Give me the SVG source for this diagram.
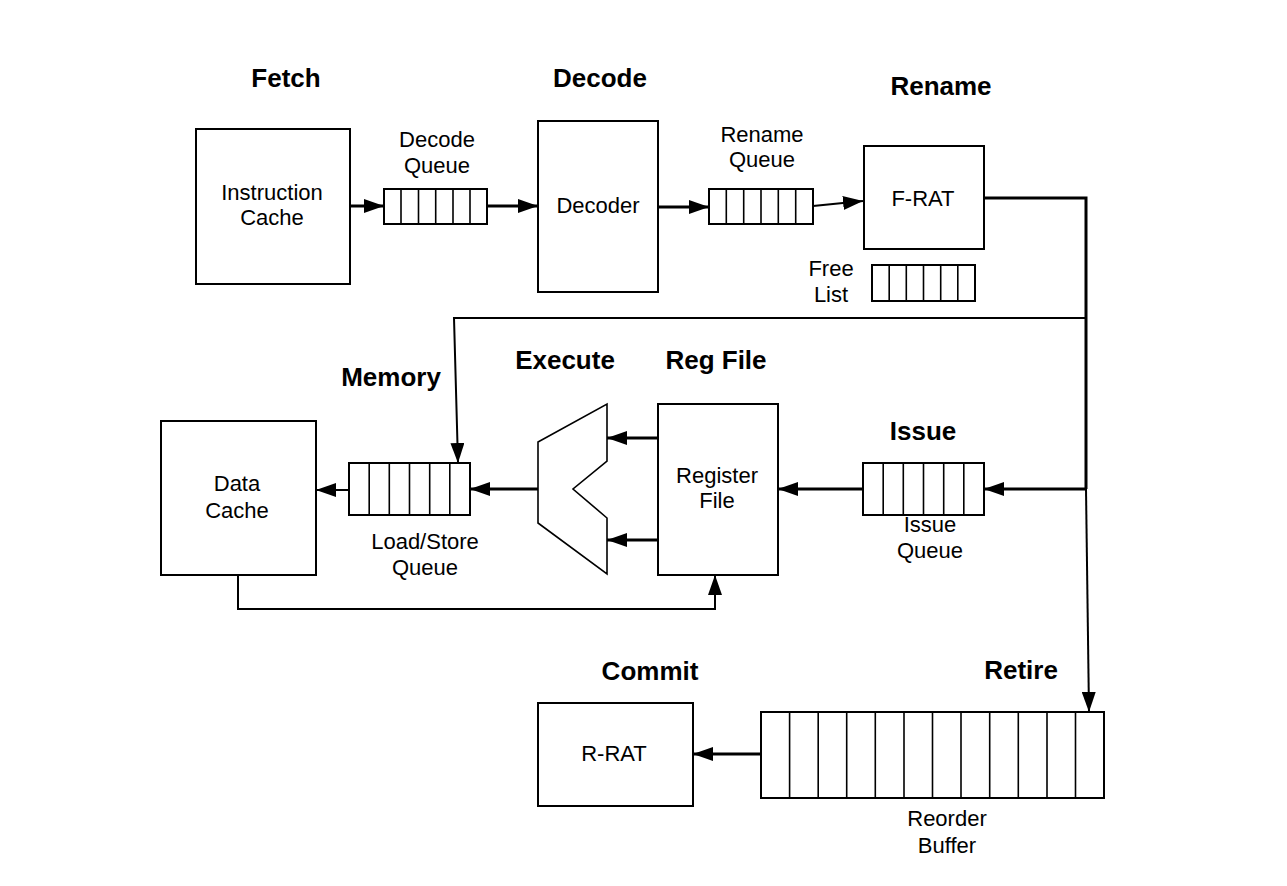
<svg xmlns="http://www.w3.org/2000/svg" width="1287" height="886" viewBox="0 0 1287 886">
<defs>
<marker id="ah" markerUnits="userSpaceOnUse" markerWidth="20" markerHeight="14" refX="20" refY="7" orient="auto">
<path d="M0,0 L20,7 L0,14 z" fill="#000"/>
</marker>
<style>
.box{fill:#fff;stroke:#000;stroke-width:2}
.cell{stroke:#000;stroke-width:1.6;fill:none}
.t{font-family:"Liberation Sans",Arial,Helvetica,sans-serif;font-size:22px;text-anchor:middle;fill:#000}
.h{font-family:"Liberation Sans",Arial,Helvetica,sans-serif;font-size:26px;font-weight:bold;text-anchor:middle;fill:#000}
.c{fill:none;stroke:#000;stroke-width:3}
.c2{fill:none;stroke:#000;stroke-width:2}
.ar{marker-end:url(#ah)}
</style>
</defs>
<rect width="1287" height="886" fill="#fff"/>

<g id="stage-labels">
<text class="h" x="286" y="87">Fetch</text>
<text class="h" x="600" y="87">Decode</text>
<text class="h" x="941" y="95">Rename</text>
<text class="h" x="391" y="386">Memory</text>
<text class="h" x="565" y="369">Execute</text>
<text class="h" x="716" y="369">Reg File</text>
<text class="h" x="923" y="440">Issue</text>
<text class="h" x="650" y="680">Commit</text>
<text class="h" x="1021" y="679">Retire</text>
</g>

<g id="connectors">
<line class="c ar" x1="350" y1="206" x2="384" y2="206"/>
<line class="c ar" x1="487" y1="206" x2="538" y2="206"/>
<line class="c ar" x1="658" y1="207" x2="709" y2="207"/>
<line class="c2 ar" x1="813" y1="206" x2="863" y2="201"/>
<polyline class="c" points="984,198 1086,198 1086,489"/>
<line class="c2 ar" x1="1086" y1="489" x2="1089" y2="712"/>
<polyline class="c2 ar" points="1086,318 454,318 458,463"/>
<line class="c ar" x1="1086" y1="489" x2="984" y2="489"/>
<line class="c ar" x1="863" y1="489" x2="778" y2="489"/>
<line class="c ar" x1="658" y1="438" x2="607" y2="438"/>
<line class="c ar" x1="658" y1="540" x2="607" y2="540"/>
<line class="c ar" x1="538" y1="489" x2="470" y2="489"/>
<line class="c2 ar" x1="349" y1="490" x2="316" y2="490"/>
<polyline class="c2 ar" points="238,575 238,609 715,609 715,575"/>
<line class="c ar" x1="761" y1="754" x2="693" y2="754"/>
</g>

<g id="icache">
<rect class="box" x="196" y="129" width="154" height="155"/>
<text class="t" x="272" y="200">Instruction</text>
<text class="t" x="272" y="225">Cache</text>
</g>

<g id="decode-queue">
<rect class="box" x="384" y="189" width="103" height="35"/>
<path class="cell" d="M401,189V224M418.5,189V224M435.7,189V224M453,189V224M470,189V224"/>
<text class="t" x="437" y="147">Decode</text>
<text class="t" x="437" y="173">Queue</text>
</g>

<g id="decoder">
<rect class="box" x="538" y="121" width="120" height="171"/>
<text class="t" x="598" y="213">Decoder</text>
</g>

<g id="rename-queue">
<rect class="box" x="709" y="189" width="104" height="35"/>
<path class="cell" d="M726.3,189V224M743.7,189V224M761,189V224M778.3,189V224M795.7,189V224"/>
<text class="t" x="762" y="142">Rename</text>
<text class="t" x="762" y="167">Queue</text>
</g>

<g id="frat">
<rect class="box" x="864" y="146" width="120" height="103"/>
<text class="t" x="923" y="206">F-RAT</text>
</g>

<g id="free-list">
<rect class="box" x="872" y="265" width="103" height="36"/>
<path class="cell" d="M889.2,265V301M906.3,265V301M923.5,265V301M940.7,265V301M957.8,265V301"/>
<text class="t" x="831" y="276">Free</text>
<text class="t" x="831" y="302">List</text>
</g>

<g id="dcache">
<rect class="box" x="161" y="421" width="155" height="154"/>
<text class="t" x="237" y="491">Data</text>
<text class="t" x="237" y="518">Cache</text>
</g>

<g id="lsq">
<rect class="box" x="349" y="463" width="121" height="52"/>
<path class="cell" d="M369.2,463V515M389.3,463V515M409.5,463V515M429.7,463V515M449.8,463V515"/>
<text class="t" x="425" y="549">Load/Store</text>
<text class="t" x="425" y="575">Queue</text>
</g>

<g id="alu">
<polygon points="538,442 607,404 607,461 573,489 607,518 607,574 538,523" fill="#fff" stroke="#000" stroke-width="1.6"/>
</g>

<g id="regfile">
<rect class="box" x="658" y="404" width="120" height="171"/>
<text class="t" x="717" y="483">Register</text>
<text class="t" x="717" y="508">File</text>
</g>

<g id="issue-queue">
<rect class="box" x="863" y="463" width="121" height="52"/>
<path class="cell" d="M883.2,463V515M903.3,463V515M923.5,463V515M943.7,463V515M963.8,463V515"/>
<text class="t" x="930" y="532">Issue</text>
<text class="t" x="930" y="558">Queue</text>
</g>

<g id="rrat">
<rect class="box" x="538" y="703" width="155" height="103"/>
<text class="t" x="614" y="761">R-RAT</text>
</g>

<g id="rob">
<rect class="box" x="761" y="712" width="343" height="86"/>
<path class="cell" d="M789.6,712V798M818.2,712V798M846.7,712V798M875.3,712V798M904,712V798M932.5,712V798M961,712V798M989.7,712V798M1018.3,712V798M1047,712V798M1075.5,712V798"/>
<text class="t" x="947" y="826">Reorder</text>
<text class="t" x="947" y="853">Buffer</text>
</g>
</svg>
